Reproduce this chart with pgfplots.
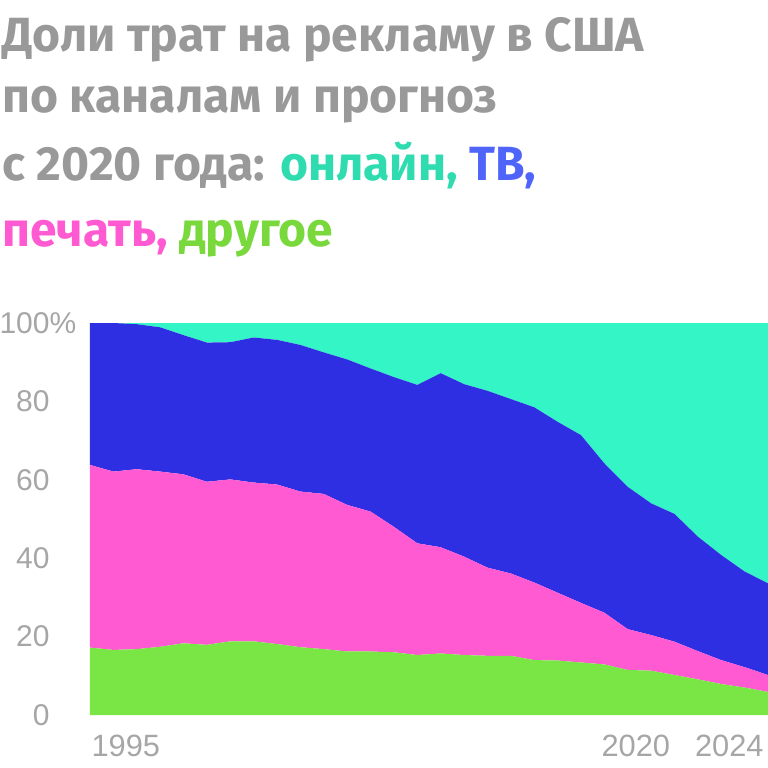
\documentclass[border=0pt]{standalone}
\usepackage{fontspec}
\usepackage{xcolor}
\usepackage{pgfplots}
\usepackage{pgfplotstable}
\pgfplotsset{compat=1.18}
\setmainfont{Liberation Sans}
\newfontfamily\titlefont{Fira Sans}
\definecolor{cteal}{HTML}{33F5C5}
\definecolor{cblue}{HTML}{2E2EE3}
\definecolor{cpink}{HTML}{FF5AD2}
\definecolor{cgreen}{HTML}{7AE645}
\definecolor{tgray}{HTML}{999999}
\definecolor{ttl}{HTML}{2EDCB0}
\definecolor{ttv}{HTML}{4F65FA}
\definecolor{tgr}{HTML}{78D83C}
\definecolor{lgray}{HTML}{A6A6A6}
\pgfplotstableread{
year g p t o
1995 17.2 46.6 36.2 0.0
1996 16.6 45.5 37.9 0.0
1997 16.8 45.9 37.0 0.3
1998 17.4 44.7 36.8 1.1
1999 18.3 43.1 35.5 3.1
2000 17.9 41.6 35.5 5.0
2001 18.8 41.3 35.0 4.9
2002 18.8 40.5 37.0 3.7
2003 18.1 40.7 36.9 4.3
2004 17.3 39.7 37.4 5.6
2005 16.8 39.6 36.1 7.5
2006 16.2 37.4 37.1 9.3
2007 16.2 35.7 36.5 11.6
2008 16.0 32.0 38.2 13.8
2009 15.3 28.5 40.4 15.8
2010 15.7 27.1 44.4 12.8
2011 15.3 25.1 44.0 15.6
2012 15.1 22.5 45.1 17.3
2013 15.1 21.0 44.5 19.4
2014 14.0 19.8 44.7 21.5
2015 13.9 17.3 43.6 25.2
2016 13.4 15.2 42.8 28.6
2017 12.9 13.2 38.1 35.8
2018 11.5 10.4 36.3 41.8
2019 11.3 9.1 33.6 46.0
2020 10.2 8.5 32.6 48.7
2021 9.1 7.2 29.2 54.5
2022 7.9 6.1 26.8 59.2
2023 7.0 5.2 24.4 63.4
2024 5.9 4.3 23.4 66.4
}\data
\begin{document}
\begin{tikzpicture}
\path[use as bounding box] (0,0) rectangle (384pt,384pt);
\begin{axis}[
  at={(45pt,26.5pt)}, anchor=south west,
  width=339pt, height=196pt, scale only axis,
  xmin=1995, xmax=2024, ymin=0, ymax=100,
  stack plots=y,
  axis line style={draw=none},
  major tick length=0pt,
  ytick={0,20,40,60,80,100},
  yticklabels={0,20,40,60,80,100\rlap{\%}},
  yticklabel style={anchor=east, inner sep=0pt, xshift=-20pt, font=\fontsize{15}{15}\selectfont, text=lgray},
  xtick={1995,2020,2024},
  xticklabels={\rlap{\hspace{3.5pt}1995},2020,2024},
  xticklabel style={anchor=north east, inner sep=0pt, xshift=-2pt, yshift=-10pt, font=\fontsize{15.4}{15.4}\selectfont, text=lgray},
]
\addplot[fill=cgreen, draw=none] table[x=year,y=g]{\data} \closedcycle;
\addplot[fill=cpink, draw=none] table[x=year,y=p]{\data} \closedcycle;
\addplot[fill=cblue, draw=none] table[x=year,y=t]{\data} \closedcycle;
\addplot[fill=cteal, draw=none] table[x=year,y=o]{\data} \closedcycle;
\end{axis}
\begin{scope}[every node/.style={anchor=base west, inner sep=0pt, font=\titlefont\bfseries\fontsize{24}{24}\selectfont}]
\node at (1pt,358pt) {\color{tgray}Доли трат на рекламу в США};
\node at (1pt,327.5pt) {\color{tgray}по каналам и прогноз};
\node at (1pt,294pt) {\color{tgray}с 2020 года: \color{ttl}онлайн, \color{ttv}ТВ,};
\node at (1pt,260.5pt) {\color{cpink}печать, \color{tgr}другое};
\end{scope}
\end{tikzpicture}
\end{document}
